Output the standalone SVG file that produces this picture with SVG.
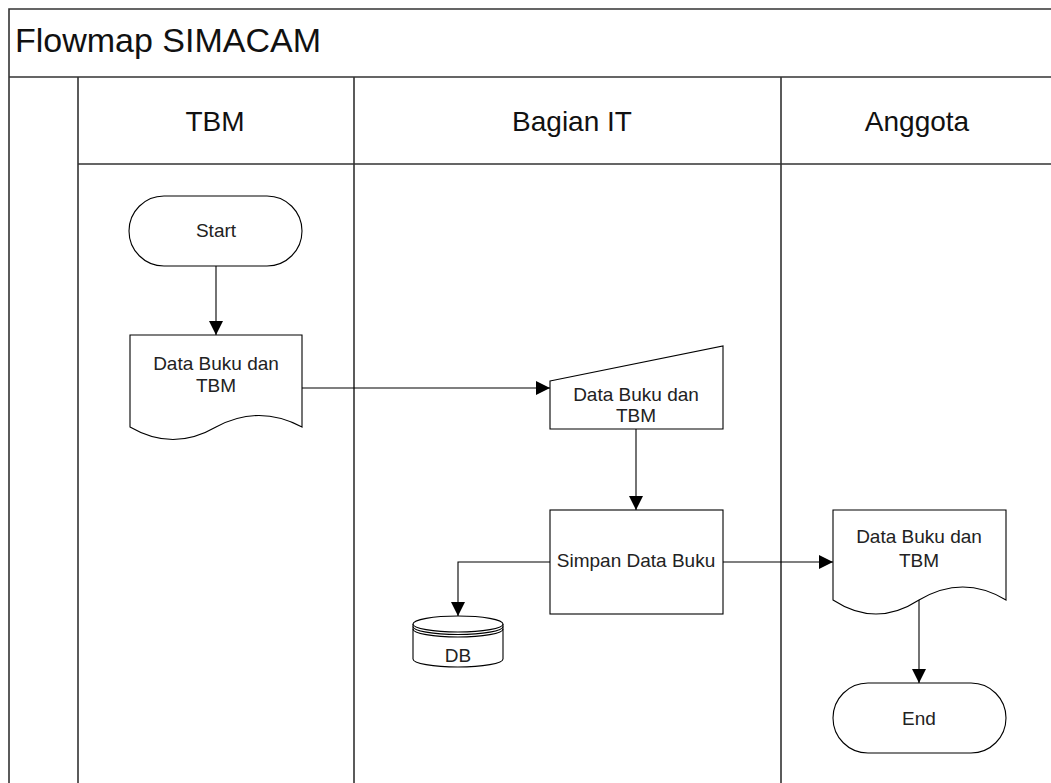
<svg xmlns="http://www.w3.org/2000/svg" width="1051" height="783" viewBox="0 0 1051 783">
<style>
.lane{fill:none;stroke:#333;stroke-width:1.6}
.shape{fill:#fff;stroke:#000;stroke-width:1.1}
.conn{fill:none;stroke:#000;stroke-width:1.1}
text{font-family:"Liberation Sans",Arial,sans-serif;fill:#111}
.t{font-size:19px;text-anchor:middle;fill:#222}
.h{font-size:28px;text-anchor:middle}
</style>
<defs>
<marker id="arr" markerUnits="userSpaceOnUse" markerWidth="14" markerHeight="14" refX="14" refY="7" orient="auto">
<path d="M0,0 L14,7 L0,14 Z" fill="#000"/>
</marker>
</defs>
<rect width="1051" height="783" fill="#fff"/>
<g id="pool">
<path class="lane" d="M9,783 V9 H1051 M9,77 H1051 M78,164 H1051 M78,77 V783 M354,77 V783 M781,77 V783"/>
<text x="15" y="52" font-size="34">Flowmap SIMACAM</text>
<text class="h" x="215" y="131">TBM</text>
<text class="h" x="572" y="131">Bagian IT</text>
<text class="h" x="917" y="131">Anggota</text>
</g>
<g id="start">
<rect class="shape" x="129" y="196" width="173" height="70" rx="35" ry="35"/>
<text class="t" x="216" y="237">Start</text>
</g>
<g id="doc1">
<path class="shape" d="M130,335 H302 V427 Q259,404 216,427 Q173,452 130,427 Z"/>
<text class="t" x="216" y="370">Data Buku dan</text>
<text class="t" x="216" y="392">TBM</text>
</g>
<g id="input">
<path class="shape" d="M550,381 L723,346 L723,429 L550,429 Z"/>
<text class="t" x="636" y="401">Data Buku dan</text>
<text class="t" x="636" y="422">TBM</text>
</g>
<g id="process">
<rect class="shape" x="550" y="510" width="173" height="104"/>
<text class="t" x="636" y="567">Simpan Data Buku</text>
</g>
<g id="db">
<path class="shape" d="M413,624 V659 A45,8 0 0 0 503,659 V624"/>
<ellipse class="shape" cx="458" cy="624" rx="45" ry="8"/>
<path class="conn" d="M413,626.5 A45,8 0 0 0 503,626.5 M413,629 A45,8 0 0 0 503,629"/>
<text class="t" x="458" y="662">DB</text>
</g>
<g id="doc2">
<path class="shape" d="M833,510 H1006 V600 Q963,574 919,600 Q876,628 833,600 Z"/>
<text class="t" x="919" y="543">Data Buku dan</text>
<text class="t" x="919" y="567">TBM</text>
</g>
<g id="end">
<rect class="shape" x="833" y="683" width="173" height="70" rx="35" ry="35"/>
<text class="t" x="919" y="725">End</text>
</g>
<g id="connectors">
<path class="conn" d="M216,266 V335" marker-end="url(#arr)"/>
<path class="conn" d="M302,388 H550" marker-end="url(#arr)"/>
<path class="conn" d="M636,429 V510" marker-end="url(#arr)"/>
<path class="conn" d="M550,562 H458 V616" marker-end="url(#arr)"/>
<path class="conn" d="M723,562 H833" marker-end="url(#arr)"/>
<path class="conn" d="M919,600 V683" marker-end="url(#arr)"/>
</g>
</svg>
